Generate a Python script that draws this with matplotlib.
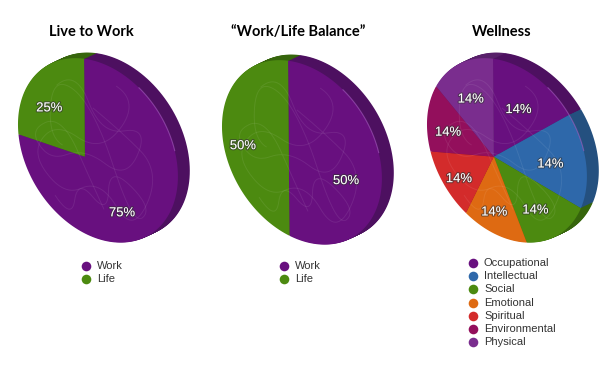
import numpy as np
import matplotlib
matplotlib.use("Agg")
import matplotlib.pyplot as plt
import matplotlib.patheffects as pe
from matplotlib.patches import PathPatch
from matplotlib.path import Path
from matplotlib.transforms import Transform, Affine2D

titles = ["Live to Work", "\u201cWork/Life Balance\u201d", "Wellness"]

work_names = ["Work", "Life"]
live_values = [75, 25]
balance_values = [50, 50]
wellness_names = ["Occupational", "Intellectual", "Social", "Emotional",
                  "Spiritual", "Environmental", "Physical"]
wellness_values = [14, 14, 14, 14, 14, 14, 14]

work_colors = ["#68107f", "#4c8a10"]
work_dark = ["#4d1060", "#36650c"]
wellness_colors = ["#68107f", "#2e68aa", "#4c8a10", "#de6a12",
                   "#d32b2b", "#930f5c", "#7a2d8e"]
wellness_dark = ["#4d1060", "#24507f", "#36650c", "#a04c0c",
                 "#981f1f", "#6b0b43", "#58206a"]

# faint scribbles on the pie faces, in pie units
scribble_a = [(-0.6, 0.5), (-0.1, 0.9), (0.2, 0.3), (0.7, 0.5), (0.5, -0.1), (0.0, 0.1),
              (-0.5, -0.2), (-0.8, 0.1), (-0.3, 0.4), (0.1, -0.3), (0.4, -0.8)]
scribble_b = [(-0.7, -0.4), (-0.2, -0.9), (-0.1, -0.3), (0.3, -0.6), (0.3, 0.0), (0.8, -0.3),
              (0.6, -0.6), (0.1, 0.6), (-0.4, 0.8), (-0.5, 0.1), (-0.1, 0.0)]
scribble_c = [(0.1, 0.9), (0.6, 0.7), (0.2, 0.1), (-0.4, 0.3), (-0.8, -0.2), (-0.3, -0.6),
              (0.2, -0.2), (0.6, -0.7), (0.85, 0.1), (0.4, 0.4), (-0.2, 0.7)]
scribbles = [scribble_a, scribble_b, scribble_c]

RADIUS = 1000.0


def fit_homography(src, dst):
    # least squares fit of the perspective map, h33 fixed to 1
    rows = []
    rhs = []
    for (x, y), (u, v) in zip(src, dst):
        rows.append([x, y, 1, 0, 0, 0, -u * x, -u * y])
        rows.append([0, 0, 0, x, y, 1, -v * x, -v * y])
        rhs += [u, v]
    h = np.linalg.lstsq(np.array(rows), np.array(rhs), rcond=None)[0]
    return np.append(h, 1).reshape(3, 3)


class Tilt(Transform):
    # perspective view of the flat pie
    input_dims = 2
    output_dims = 2
    is_separable = False
    has_inverse = False

    def __init__(self, matrix):
        super().__init__()
        self.matrix = matrix

    def transform_non_affine(self, values):
        values = np.asarray(values, dtype=float)
        pts = np.column_stack([values, np.ones(len(values))]) @ self.matrix.T
        return pts[:, :2] / pts[:, 2:]

    def transform_path_non_affine(self, path):
        polys = path.to_polygons(closed_only=False)
        return Path(self.transform_non_affine(polys[0]))


# slice edges seen in the picture: Wellness edges, hub, and the two edges of the
# other pies moved over onto the Wellness position
edge_angles = np.radians(np.append(90 - np.arange(7) * 360 / 7, [180, -90]))
src_pts = [(RADIUS * np.cos(a), RADIUS * np.sin(a)) for a in edge_angles] + [(0, 0)]
dst_pts = [(493, 58), (570, 116), (581, 207), (527, 242),
           (467, 213), (430, 153), (435, 88), (429, 131), (493, 235), (493, 157)]
tilt = Tilt(fit_homography(src_pts, dst_pts))


def draw_scribbles(ax, move):
    for line in scribbles:
        ctrl = np.array(line) * RADIUS
        mids = (ctrl[:-1] + ctrl[1:]) / 2
        # smooth curve: slice midpoints on the line, given points as controls
        verts = [mids[0]]
        codes = [Path.MOVETO]
        for c, m in zip(ctrl[1:-1], mids[1:]):
            verts += [c, m]
            codes += [Path.CURVE3, Path.CURVE3]
        ax.add_patch(PathPatch(Path(np.array(verts), codes), fill=False, edgecolor="white",
                               alpha=0.08, lw=0.7, transform=tilt + move + ax.transData,
                               zorder=2))


def draw_pie(ax, values, colors, dark, shift, pct):
    # rim first, stacked back to front, then the face with its labels
    for step in range(14, 0, -1):
        wedges, _ = ax.pie(values, colors=dark, startangle=90, counterclock=False,
                           radius=RADIUS, frame=True)
        move = Affine2D().translate(shift[0] + step * 0.85, shift[1] - step * 0.4)
        for w in wedges:
            w.set_transform(tilt + move + ax.transData)
    wedges, _, labels = ax.pie(values, colors=colors, startangle=90, counterclock=False,
                               radius=RADIUS, frame=True, autopct="%d%%", pctdistance=pct,
                               textprops=dict(color="white", fontsize=9.4, family="Liberation Sans"))
    move = Affine2D().translate(*shift)
    text_move = Affine2D().translate(shift[0], shift[1] + 3)
    for w in wedges:
        w.set_transform(tilt + move + ax.transData)
    for t in labels:
        t.set_transform(tilt + text_move + ax.transData)
        t.set_zorder(4)
        t.set_path_effects([pe.withStroke(linewidth=1.6, foreground="#33333399")])
    draw_scribbles(ax, move)
    # thin light edge along the upper right of the face
    arc = np.radians(np.linspace(55, 20, 30))
    ax.plot(RADIUS * np.cos(arc), RADIUS * np.sin(arc), color="#a65cc0", lw=0.8, alpha=0.6,
            transform=tilt + move + ax.transData, zorder=3)


def draw_key(ax, names, colors, x, y):
    for i, name in enumerate(names):
        ax.scatter([x], [y + i * 13.2], s=48, color=colors[i], linewidths=0, zorder=3)
        ax.text(x + 11, y + i * 13.2, name, fontsize=8, color="#333333",
                family="Liberation Sans", va="center")


def main():
    fig = plt.figure(figsize=(6.14, 3.74), dpi=100)
    ax = fig.add_axes([0, 0, 1, 1])

    draw_pie(ax, live_values, work_colors, work_dark, (-409, 0), 0.66)
    draw_pie(ax, balance_values, work_colors, work_dark, (-205, 2), 0.66)
    draw_pie(ax, wellness_values, wellness_colors, wellness_dark, (0, 0), 0.66)

    draw_key(ax, work_names, work_colors, 86, 266)
    draw_key(ax, work_names, work_colors, 284, 266)
    draw_key(ax, wellness_names, wellness_colors, 473, 263)

    for title, x in zip(titles, [91, 298, 502]):
        ax.text(x, 32, title, fontsize=10.5, fontweight="bold", family="Lato",
                ha="center", va="center", color="black")

    ax.set_aspect("auto")
    ax.set_xlim(0, 614)
    ax.set_ylim(374, 0)
    ax.axis("off")
    fig.savefig("out.png", dpi=100, facecolor="white")


if __name__ == "__main__":
    main()
